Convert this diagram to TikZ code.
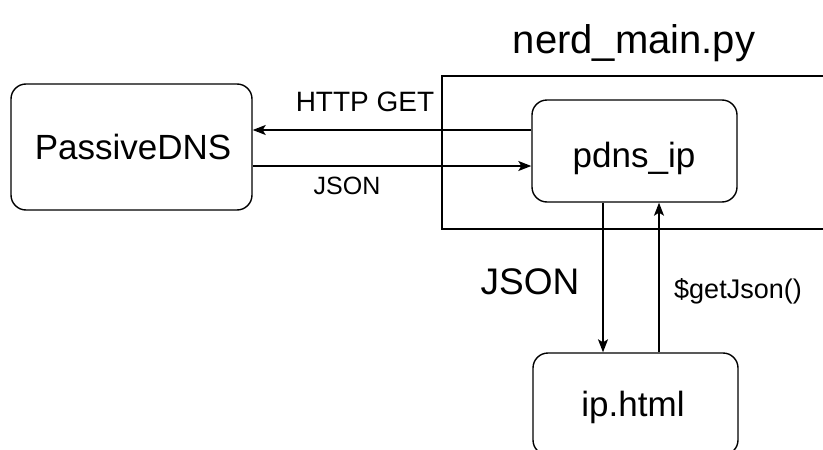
\documentclass[tikz,border=0pt]{standalone}
\usepackage{fontspec}
\setmainfont{Liberation Sans}
\usetikzlibrary{arrows.meta}
\begin{document}
\begin{tikzpicture}[x=1pt,y=-1pt,
  box/.style={draw=black,line width=1.4pt,rounded corners=15pt,fill=white,inner sep=0pt},
  frame/.style={draw=black,line width=1.4pt,inner sep=0pt},
  lbl/.style={inner sep=0pt,anchor=base},
  arr/.style={line width=1.4pt,-{Stealth[length=13pt,width=10pt,inset=3pt]}}]
\useasboundingbox (0,0) rectangle (823,450);
% container
\node[frame,minimum width=390pt,minimum height=153pt] (main) at (637,152.5) {};
\node[lbl,font=\fontsize{40}{48}\selectfont] (mainlbl) at (634,53) {nerd\_main.py};
% boxes
\node[box,minimum width=241pt,minimum height=126pt] (pas) at (131.5,147) {};
\node[lbl,font=\fontsize{35}{42}\selectfont] (pastxt) at (133,159) {PassiveDNS};
\node[box,minimum width=205pt,minimum height=102pt] (pdns) at (634.5,151) {};
\node[lbl,font=\fontsize{35}{42}\selectfont] (pdnstxt) at (634,167) {pdns\_ip};
\node[box,minimum width=205pt,minimum height=102pt] (iph) at (635.5,404) {};
\node[lbl,font=\fontsize{35}{42}\selectfont] (iphtxt) at (633,416) {ip.html};
% connectors
\draw[arr] (pdns.west |- 0,130) -- (pas.east |- 0,130);
\draw[arr] (pas.east |- 0,166) -- (pdns.west |- 0,166);
\draw[arr] (pdns.south -| 603,0) -- (iph.north -| 603,0);
\draw[arr] (iph.north -| 659,0) -- (pdns.south -| 659,0);
% labels
\node[lbl,font=\fontsize{28}{34}\selectfont] (l1) at (365,111) {HTTP GET};
\node[lbl,font=\fontsize{25}{30}\selectfont] (l2) at (347,194) {JSON};
\node[lbl,font=\fontsize{37}{44}\selectfont] (l3) at (530,294) {JSON};
\node[lbl,font=\fontsize{27}{32}\selectfont] (l4) at (738,298) {\$getJson()};
\end{tikzpicture}
\end{document}
